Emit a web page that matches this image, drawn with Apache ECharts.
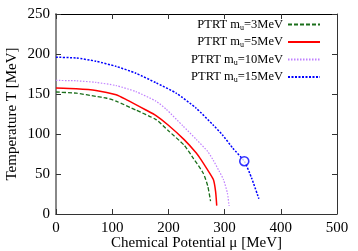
<!DOCTYPE html>
<html><head><meta charset="utf-8">
<script src="https://cdn.jsdelivr.net/npm/echarts@6/dist/echarts.min.js"></script>
<style>html,body{margin:0;padding:0;background:#fff}#c{width:358px;height:251px}</style>
</head><body><div id="c"></div>
<script>
const xTicks = [0, 100, 200, 300, 400, 500];
const yTicks = [0, 50, 100, 150, 200, 250];
const seriesNames = ['PTRT m_u=3MeV', 'PTRT m_u=5MeV', 'PTRT m_u=10MeV', 'PTRT m_u=15MeV'];
const mu3 = [[0,152.5],[36,151],[71,147],[89,145],[107,141],[142,130],[178,118],[200,104],[228,86],[245,69],[262,51],[270,35],[275,16]];
const mu5 = [[0,157.5],[36,156.6],[71,154.5],[107,149],[125,143],[160,130],[178,123],[200,111],[228,93],[250,76],[258,68],[268,57],[280,43],[284,28],[286,10.5]];
const mu10 = [[0,167],[36,166.5],[71,164.5],[107,160.5],[142,153],[178,141],[196,131],[226,110],[250,93],[270,78],[280,67],[290,54],[298,43],[305,26],[308,10]];
const mu15 = [[0,196],[36,195],[71,191],[107,184.5],[142,176],[178,164],[214,151],[249,132.5],[280,111],[296,99],[315,82],[335,66],[348,45],[361,19]];
const endpoint = [[335, 66]];

const font = 'Liberation Serif';
const chart = echarts.init(document.getElementById('c'));
function legendFmt(name){
  const m = name.match(/^PTRT m_u=(.*)$/);
  return '{a|PTRT m}{s|u}{a|=' + m[1] + '}';
}
chart.setOption({
  animation: false,
  grid: { left: 56, right: 21, top: 14, bottom: 37, containLabel: false, outerBoundsMode: 'none' },
  legend: {
    orient: 'vertical', right: 32, top: 13, align: 'right',
    itemWidth: 32, itemHeight: 8, itemGap: 4,
    data: seriesNames,
    formatter: legendFmt,
    itemStyle: { opacity: 0 },
    textStyle: {
      fontFamily: font, fontSize: 12.5, color: '#000', width: 88, align: 'right',
      rich: {
        a: { fontFamily: font, fontSize: 12.5, color: '#000', align: 'right' },
        s: { fontFamily: font, fontSize: 8, color: '#000', verticalAlign: 'bottom', padding: [6,0,0,0], align: 'right' }
      }
    }
  },
  xAxis: [{
    type: 'value', min: 0, max: 500, interval: 100,
    name: 'Chemical Potential μ [MeV]', nameLocation: 'middle', nameGap: 22, nameMoveOverlap: false,
    nameTextStyle: { fontFamily: font, fontSize: 15, color: '#000' },
    axisLine: { onZero: false, lineStyle: { color: '#333', width: 1 } },
    axisTick: { inside: true, length: 5, lineStyle: { color: '#333' } },
    axisLabel: { fontFamily: font, fontSize: 15, color: '#000', margin: 7 },
    splitLine: { show: false }
  }, {
    type: 'value', position: 'top', min: 0, max: 500, interval: 100,
    axisLine: { show: true, onZero: false, lineStyle: { color: '#000', width: 1 } },
    axisTick: { inside: true, length: 5, lineStyle: { color: '#333' } },
    axisLabel: { show: false }, splitLine: { show: false }
  }],
  yAxis: [{
    type: 'value', min: 0, max: 250, interval: 50,
    name: 'Temperature T [MeV]', nameLocation: 'middle', nameGap: 36, nameMoveOverlap: false,
    nameTextStyle: { fontFamily: font, fontSize: 15, color: '#000' },
    axisLine: { show: true, onZero: false, lineStyle: { color: '#888', width: 2 } },
    axisTick: { inside: true, length: 5, lineStyle: { color: '#333' } },
    axisLabel: { fontFamily: font, fontSize: 15, color: '#000', margin: 6 },
    splitLine: { show: false }
  }, {
    type: 'value', position: 'right', min: 0, max: 250, interval: 50,
    axisLine: { show: true, onZero: false, lineStyle: { color: '#333', width: 1 } },
    axisTick: { inside: true, length: 5, lineStyle: { color: '#333' } },
    axisLabel: { show: false }, splitLine: { show: false }
  }],
  series: [
    { name: seriesNames[0], type: 'line', data: mu3, symbol: 'none', smooth: 0.2,
      lineStyle: { color: '#1a6e1a', width: 1.3, type: [4, 2] }, itemStyle: { color: '#1a6e1a' } },
    { name: seriesNames[1], type: 'line', data: mu5, symbol: 'none', smooth: 0.2,
      lineStyle: { color: '#ff0000', width: 1.5, type: 'solid' }, itemStyle: { color: '#ff0000' } },
    { name: seriesNames[2], type: 'line', data: mu10, symbol: 'none', smooth: 0.2,
      lineStyle: { color: '#c080ff', width: 1.2, type: [1.5, 1.5] }, itemStyle: { color: '#c080ff' } },
    { name: seriesNames[3], type: 'line', data: mu15, symbol: 'none', smooth: 0.2,
      lineStyle: { color: '#0000ff', width: 1.5, type: [2, 1.5] }, itemStyle: { color: '#0000ff' } },
    { name: 'endpoint', type: 'scatter', data: endpoint, symbol: 'circle', symbolSize: 9,
      itemStyle: { color: '#fff', borderColor: '#0000ff', borderWidth: 1.6 }, z: 5 }
  ]
});
</script></body></html>
